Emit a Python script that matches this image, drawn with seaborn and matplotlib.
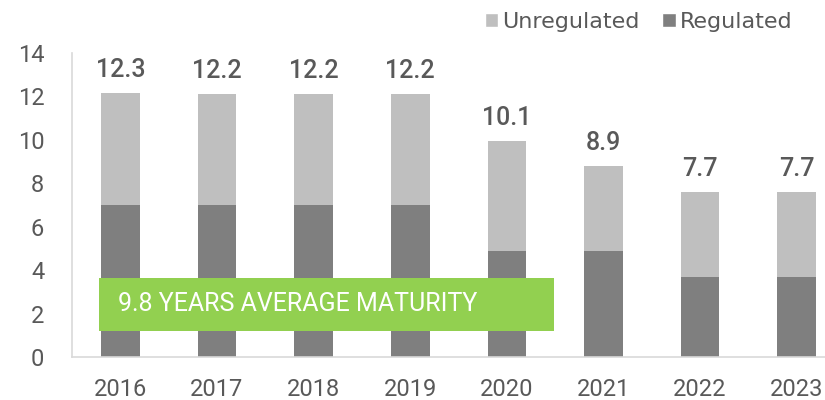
import pandas as pd
import matplotlib.pyplot as plt
import seaborn as sns
from matplotlib.patches import Patch, Rectangle

# data
years = ["2016", "2017", "2018", "2019", "2020", "2021", "2022", "2023"]
regulated = [7.0, 7.0, 7.0, 7.0, 4.9, 4.9, 3.7, 3.7]
unregulated = [5.15, 5.1, 5.1, 5.1, 5.05, 3.9, 3.9, 3.9]
total_labels = ["12.3", "12.2", "12.2", "12.2", "10.1", "8.9", "7.7", "7.7"]
note = "9.8 YEARS AVERAGE MATURITY"

df = pd.DataFrame({"Year": years, "Regulated": regulated, "Unregulated": unregulated})
df["Total"] = df["Regulated"] + df["Unregulated"]

light = "#bfbfbf"
dark = "#7f7f7f"
txt = "#595959"

sns.set_style("white")
plt.rcParams["font.family"] = ["Roboto", "DejaVu Sans"]

fig = plt.figure(figsize=(8.25, 4), dpi=100)
ax = fig.add_axes([0.0873, 0.1075, 0.937, 0.76])

# stacked bars: total drawn first, regulated on top of it
sns.barplot(x="Year", y="Total", data=df, color=light, width=0.4, saturation=1, linewidth=0, ax=ax)
sns.barplot(x="Year", y="Regulated", data=df, color=dark, width=0.4, saturation=1, linewidth=0, ax=ax)

for i, lab in enumerate(total_labels):
    ax.annotate(lab, (i, df["Total"][i]), xytext=(0, 23), textcoords="offset pixels",
                ha="center", va="center", fontsize=18, color=txt, fontweight="medium")

# green note box
ax.add_patch(Rectangle((-0.22, 1.22), 4.71, 2.4, facecolor="#92d050", edgecolor="none", zorder=5))
ax.text(-0.02, 2.42, note, ha="left", va="center", color="white", fontsize=18, zorder=6,
        family=["Liberation Sans Narrow", "Roboto", "DejaVu Sans"])

ax.set_xlim(-0.5, 7.5)
ax.set_ylim(0, 14)
ax.set_yticks(range(0, 15, 2))
ax.set_xlabel("")
ax.set_ylabel("")
ax.tick_params(axis="y", length=0, pad=20, labelsize=17, labelcolor=txt)
ax.tick_params(axis="x", length=0, pad=15, labelsize=17, labelcolor=txt)
for s in ["top", "right"]:
    ax.spines[s].set_visible(False)
for s in ["left", "bottom"]:
    ax.spines[s].set_color("#d9d9d9")
    ax.spines[s].set_linewidth(1.2)

handles = [Patch(facecolor=light, label="Unregulated"), Patch(facecolor=dark, label="Regulated")]
fig.legend(handles=handles, loc="center right", bbox_to_anchor=(0.985, 0.945), ncol=2, frameon=False,
           prop={"family": "DejaVu Sans", "size": 16}, labelcolor=txt, handlelength=0.6,
           handleheight=0.6, handletextpad=0.2, columnspacing=1.0)

plt.savefig("out.png", dpi=100)
